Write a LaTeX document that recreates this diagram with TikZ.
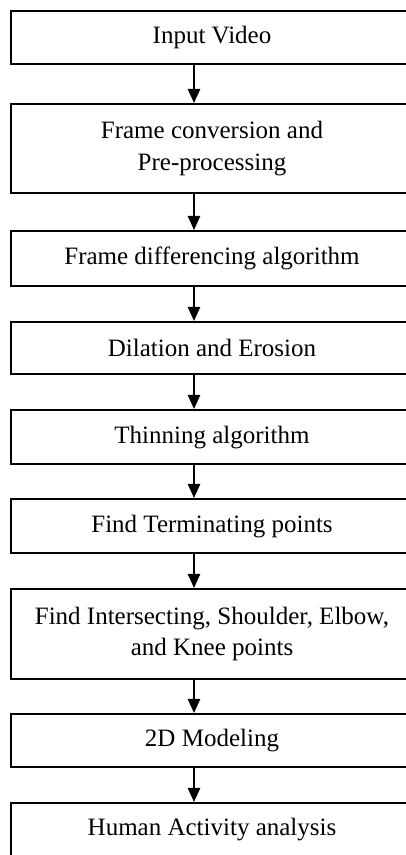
\documentclass[tikz,border=0pt]{standalone}
\usepackage{fontspec}
\setmainfont{Liberation Serif}
\usetikzlibrary{arrows.meta,positioning}

\begin{document}
\begin{tikzpicture}
        [x=0.44pt,y=-0.44pt,>={Triangle[width=5.4pt,length=6.2pt]},
         stage/.style={draw,line width=0.9pt,rectangle,anchor=north,align=center,
            minimum width=402*0.44pt,inner sep=0pt,
            font=\fontsize{11}{13.9}\selectfont},
         flow/.style={->,line width=0.8pt}]

        \useasboundingbox (0,0) rectangle (406,855);
        \clip (0,0) rectangle (406,855);

        % the stages, top to bottom
        \node[stage,minimum height=53*0.44pt] (input)  at (212,10)  {Input Video};
        \node[stage,minimum height=89*0.44pt] (conv)   at (212,103) {Frame conversion and\\Pre-processing};
        \node[stage,minimum height=55*0.44pt] (diff)   at (212,230) {Frame differencing algorithm};
        \node[stage,minimum height=52*0.44pt] (dilate) at (212,321) {Dilation and Erosion};
        \node[stage,minimum height=54*0.44pt] (thin)   at (212,409) {Thinning algorithm};
        \node[stage,minimum height=54*0.44pt] (term)   at (212,498) {Find Terminating points};
        \node[stage,minimum height=90*0.44pt] (inter)  at (212,588) {Find Intersecting, Shoulder, Elbow,\\and Knee points};
        \node[stage,minimum height=53*0.44pt] (model)  at (212,713) {2D Modeling};
        \node[stage,minimum height=53*0.44pt] (activity) at (212,802) {Human Activity analysis};

        % arrows run a bit left of the box centres
        \coordinate (ax) at (194,0);
        \draw[flow] (input.south -| ax) -- (conv.north -| ax);
        \draw[flow] (conv.south -| ax) -- (diff.north -| ax);
        \draw[flow] (diff.south -| ax) -- (dilate.north -| ax);
        \draw[flow] (dilate.south -| ax) -- (thin.north -| ax);
        \draw[flow] (thin.south -| ax) -- (term.north -| ax);
        \draw[flow] (term.south -| ax) -- (inter.north -| ax);
        \draw[flow] (inter.south -| ax) -- (model.north -| ax);
        \draw[flow] (model.south -| ax) -- (activity.north -| ax);

\end{tikzpicture}
\end{document}
